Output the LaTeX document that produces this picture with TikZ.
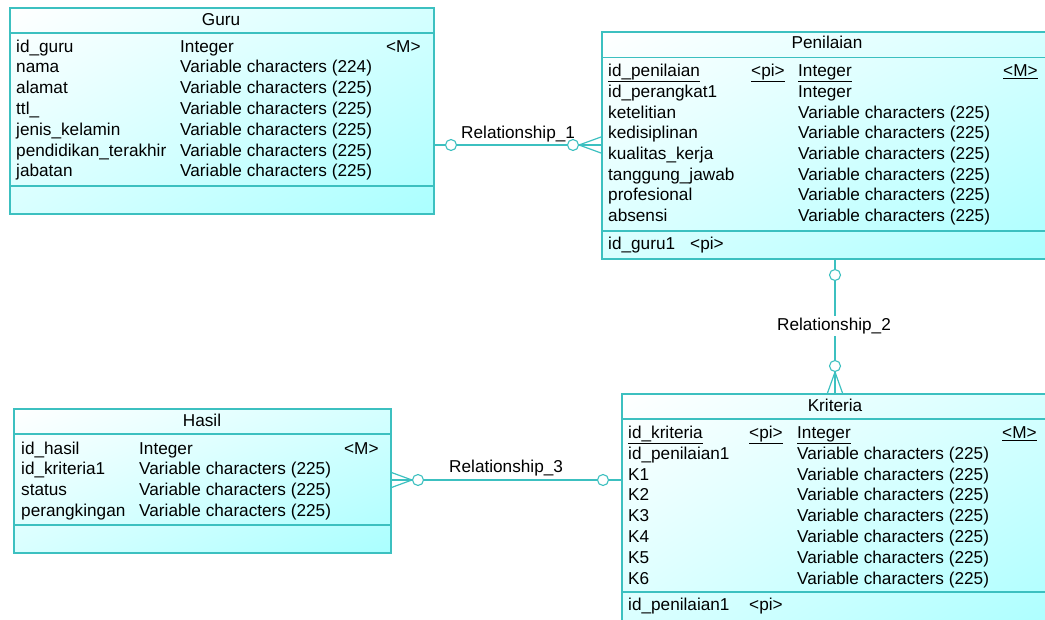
\documentclass[tikz,border=0pt]{standalone}
\usepackage{fontspec}
\setmainfont{Liberation Sans}
\usetikzlibrary{shadings}
\definecolor{erline}{RGB}{60,192,192}
\definecolor{erfill}{RGB}{170,255,255}
\newcommand\erfont{\fontsize{17.2}{20}\selectfont}
\tikzset{
  entity/.style={draw=erline, line width=1.5pt, rectangle, inner sep=0pt, anchor=north west,
    upper left=white, upper right=erfill!50, lower left=erfill!45, lower right=erfill},
  sepline/.style={draw=erline, line width=1.4pt},
  txt/.style={anchor=base west, inner sep=0pt, font=\erfont, text=black},
  ttl/.style={anchor=base, inner sep=0pt, font=\erfont, text=black},
  rel/.style={draw=erline, line width=1.2pt},
  card/.style={circle, draw=erline, fill=white, minimum size=11pt, inner sep=0pt, line width=1.1pt},
  rlabel/.style={anchor=base west, inner sep=0pt, font=\erfont, text=black},
}
\begin{document}
\begin{tikzpicture}[x=1pt,y=-1pt]
\useasboundingbox (0,0) rectangle (1045,619);
\clip (0,0) rectangle (1045,619);

% ---------------- Guru ----------------
\node[entity, minimum width=424pt, minimum height=206pt] (guru) at (9,7) {};
\draw[sepline] (guru.west |- 0,33) -- (guru.east |- 0,33);
\draw[sepline] (guru.west |- 0,186) -- (guru.east |- 0,186);
\node[ttl] (guruT) at (221,25) {Guru};
\foreach \n/\t [count=\i from 0] in {id\_guru/Integer, nama/Variable characters (224),
  alamat/Variable characters (225), ttl\_/Variable characters (225),
  jenis\_kelamin/Variable characters (225), pendidikan\_terakhir/Variable characters (225),
  jabatan/Variable characters (225)} {
  \node[txt] (guruN\i) at (16,52+20.8*\i) {\n};
  \node[txt] (guruD\i) at (180,52+20.8*\i) {\t};
}
\node[txt] (guruM) at (386,52) {<M>};

% ---------------- Penilaian (runs past the right edge) ----------------
\node[entity, minimum width=460pt, minimum height=227pt] (pen) at (601,31) {};
\draw[sepline] (pen.west |- 0,57.5) -- (pen.east |- 0,57.5);
\draw[sepline] (pen.west |- 0,231) -- (pen.east |- 0,231);
\node[ttl] (penT) at (827,48.5) {Penilaian};
\node[txt] (penN0) at (608,76.7) {\underline{id\_penilaian}};
\node[txt] (penP0) at (751,76.7) {\underline{<pi>}};
\node[txt] (penD0) at (798,76.7) {\underline{Integer}};
\node[txt] (penM0) at (1003,76.7) {\underline{<M>}};
\foreach \n/\t [count=\i from 1] in {id\_perangkat1/Integer,
  ketelitian/Variable characters (225), kedisiplinan/Variable characters (225),
  kualitas\_kerja/Variable characters (225), tanggung\_jawab/Variable characters (225),
  profesional/Variable characters (225), absensi/Variable characters (225)} {
  \node[txt] (penN\i) at (608,76.7+20.7*\i) {\n};
  \node[txt] (penD\i) at (798,76.7+20.7*\i) {\t};
}
\node[txt] (penK) at (608,249.3) {id\_guru1};
\node[txt] (penKP) at (690,249.3) {<pi>};

% ---------------- Kriteria (runs past the right and bottom edges) ----------------
\node[entity, minimum width=440pt, minimum height=240pt] (kri) at (621,393) {};
\draw[sepline] (kri.west |- 0,419) -- (kri.east |- 0,419);
\draw[sepline] (kri.west |- 0,592) -- (kri.east |- 0,592);
\node[ttl] (kriT) at (835,411) {Kriteria};
\node[txt] (kriN0) at (628,438.3) {\underline{id\_kriteria}};
\node[txt] (kriP0) at (749,438.3) {\underline{<pi>}};
\node[txt] (kriD0) at (797,438.3) {\underline{Integer}};
\node[txt] (kriM0) at (1002,438.3) {\underline{<M>}};
\foreach \n/\t [count=\i from 1] in {id\_penilaian1/Variable characters (225),
  K1/Variable characters (225), K2/Variable characters (225),
  K3/Variable characters (225), K4/Variable characters (225),
  K5/Variable characters (225), K6/Variable characters (225)} {
  \node[txt] (kriN\i) at (628,438.3+20.85*\i) {\n};
  \node[txt] (kriD\i) at (797,438.3+20.85*\i) {\t};
}
\node[txt] (kriK) at (628,610.7) {id\_penilaian1};
\node[txt] (kriKP) at (749,610.7) {<pi>};

% ---------------- Hasil ----------------
\node[entity, minimum width=377pt, minimum height=144pt] (has) at (13,408) {};
\draw[sepline] (has.west |- 0,434) -- (has.east |- 0,434);
\draw[sepline] (has.west |- 0,525) -- (has.east |- 0,525);
\node[ttl] (hasT) at (202,426.7) {Hasil};
\foreach \n/\t [count=\i from 0] in {id\_hasil/Integer,
  id\_kriteria1/Variable characters (225), status/Variable characters (225),
  perangkingan/Variable characters (225)} {
  \node[txt] (hasN\i) at (21,454+20.9*\i) {\n};
  \node[txt] (hasD\i) at (139,454+20.9*\i) {\t};
}
\node[txt] (hasM) at (344,454) {<M>};

% ---------------- Relationship_1 : Guru -- Penilaian ----------------
\coordinate (r1a) at (guru.east |- 0,145);
\coordinate (r1b) at (pen.west |- 0,145);
\draw[rel] (r1a) -- (r1b);
\node[card] (r1c1) at (451,145) {};
\node[card] (r1c2) at (573,145) {};
\draw[rel] (r1c2.east) -- ([yshift=8pt]r1b);
\draw[rel] (r1c2.east) -- ([yshift=-8pt]r1b);
\node[rlabel] (r1l) at (461,138) {Relationship\_1};

% ---------------- Relationship_2 : Penilaian -- Kriteria ----------------
\coordinate (r2a) at (835,0 |- pen.south);
\coordinate (r2b) at (835,0 |- kri.north);
\draw[rel] (r2a) -- (r2b);
\node[card] (r2c1) at (835,275) {};
\node[card] (r2c2) at (835,366) {};
\draw[rel] (r2c2.south) -- ([xshift=-7.5pt]r2b);
\draw[rel] (r2c2.south) -- ([xshift=7.5pt]r2b);
\node[anchor=base, font=\erfont, fill=white, inner xsep=1pt, inner ysep=2pt] (r2l) at (834,330) {Relationship\_2};

% ---------------- Relationship_3 : Hasil -- Kriteria ----------------
\coordinate (r3a) at (has.east |- 0,480);
\coordinate (r3b) at (kri.west |- 0,480);
\draw[rel] (r3a) -- (r3b);
\node[card] (r3c1) at (418,480) {};
\node[card] (r3c2) at (603,480) {};
\draw[rel] (r3c1.west) -- ([yshift=7.5pt]r3a);
\draw[rel] (r3c1.west) -- ([yshift=-7.5pt]r3a);
\node[rlabel] (r3l) at (449,472.3) {Relationship\_3};
\end{tikzpicture}
\end{document}
